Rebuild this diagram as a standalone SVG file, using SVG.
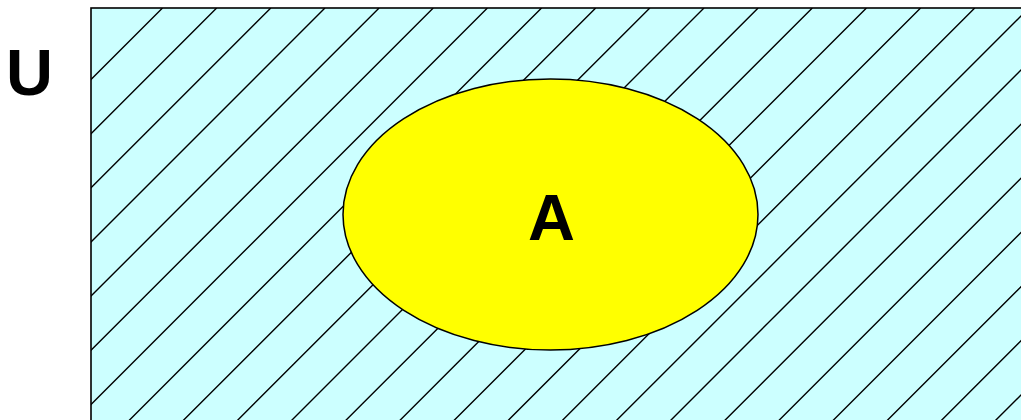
<svg xmlns="http://www.w3.org/2000/svg" width="1021" height="420" viewBox="0 0 1021 420">
  <style>
    .lbl { font-family: "Liberation Sans", Arial, sans-serif; font-weight: bold; font-size: 65px; fill: #000; text-anchor: middle; }
    .hatch { stroke: #000; stroke-width: 1.4; fill: none; }
  </style>
  <defs>
    <clipPath id="uclip">
      <rect x="91" y="8" width="940" height="420"/>
    </clipPath>
  </defs>
  <rect width="1021" height="420" fill="#ffffff"/>
  <g id="universe">
    <rect x="91" y="8" width="940" height="420" fill="#ccffff" stroke="#000" stroke-width="1.6"/>
    <path class="hatch" clip-path="url(#uclip)" d="M162.5 8L-259.5 430M216.65 8L-205.35 430M270.8 8L-151.2 430M324.95 8L-97.05 430M379.1 8L-42.9 430M433.25 8L11.25 430M487.4 8L65.4 430M541.55 8L119.55 430M595.7 8L173.7 430M649.85 8L227.85 430M704 8L282 430M758.15 8L336.15 430M812.3 8L390.3 430M866.45 8L444.45 430M920.6 8L498.6 430M974.75 8L552.75 430M1028.9 8L606.9 430M1083.05 8L661.05 430M1137.2 8L715.2 430M1191.35 8L769.35 430M1245.5 8L823.5 430M1299.65 8L877.65 430M1353.8 8L931.8 430M1407.95 8L985.95 430"/>
    <text class="lbl" x="29.5" y="95">U</text>
  </g>
  <g id="setA">
    <ellipse cx="550.5" cy="214.5" rx="207.5" ry="135.5" fill="#ffff00" stroke="#000" stroke-width="1.5"/>
    <text class="lbl" x="551.5" y="240">A</text>
  </g>
</svg>
